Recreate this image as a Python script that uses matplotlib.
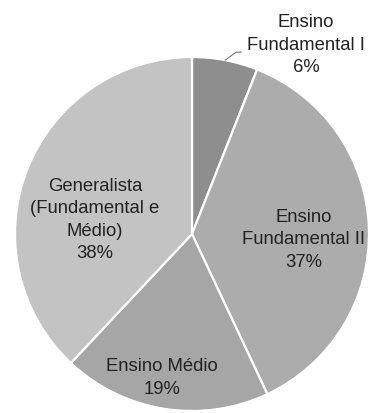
import numpy as np
import matplotlib.pyplot as plt

labels = ["Ensino\nFundamental I", "Ensino\nFundamental II", "Ensino Médio",
          "Generalista\n(Fundamental e\nMédio)"]
shares = [6, 37, 19, 38]
colors = ["#8e8e8e", "#acacac", "#a6a6a6", "#c3c3c3"]

plt.rcParams['font.family'] = ['Liberation Sans', 'DejaVu Sans']

W, H = 376, 414
fig = plt.figure(figsize=(W / 100, H / 100), dpi=100)
ax = fig.add_axes([0, 0, 1, 1])

cx, cy, r = 192, H - 235, 177
wedges, _ = ax.pie(shares, colors=colors, startangle=90, counterclock=False,
                   center=(cx, cy), radius=r, frame=True,
                   wedgeprops=dict(edgecolor='white', linewidth=1.6))
ax.set_xlim(0, W)
ax.set_ylim(0, H)
ax.axis('off')

# label positions (pixel coords from top-left)
label_pos = [(306, 45), (304, 240), (162, 378), (95, 220)]
for lab, s, (lx, ly) in zip(labels, shares, label_pos):
    ax.text(lx, H - ly, f"{lab}\n{s}%", ha='center', va='center',
            fontsize=13.3, color='#222222', linespacing=1.4)

# leader line for the small slice
w = wedges[0]
mid = np.deg2rad((w.theta1 + w.theta2) / 2)
x0, y0 = cx + r * np.cos(mid), cy + r * np.sin(mid)
ax.plot([x0, x0 + 11, x0 + 16], [y0, y0 + 8, y0 + 8], color='#777777', lw=0.8)

fig.savefig('out.png', dpi=100)
